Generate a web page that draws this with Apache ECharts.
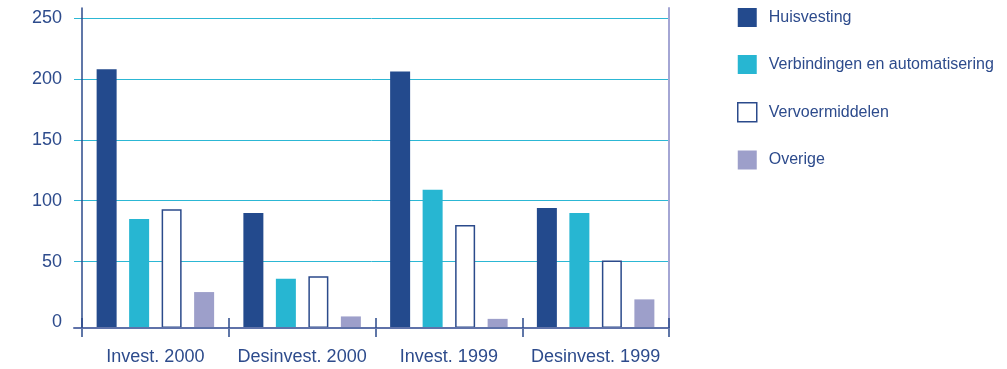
<!DOCTYPE html>
<html>
<head>
<meta charset="utf-8">
<script src="https://cdn.jsdelivr.net/npm/echarts@6/dist/echarts.min.js"></script>
<style>
  html, body { margin: 0; padding: 0; background: #ffffff; }
  #chart { width: 1007px; height: 369px; }
</style>
</head>
<body>
<div id="chart"></div>
<script>
// Investeringen en desinvesteringen per soort (x 1 mln)
const categories = ['Invest. 2000', 'Desinvest. 2000', 'Invest. 1999', 'Desinvest. 1999'];
const seriesNames = ['Huisvesting', 'Verbindingen en automatisering', 'Vervoermiddelen', 'Overige'];
const huisvesting = [208, 90, 206, 94];
const verbindingen = [85, 36, 109, 90];
const vervoermiddelen = [93, 38, 80, 51];
const overige = [25, 5, 3, 19];
const yTicks = [0, 50, 100, 150, 200, 250];

// value axis runs slightly below zero: the baseline sits under the 0 label
const yMin = -4.5;
const yMax = yTicks[yTicks.length - 1];

const FONT = "'Liberation Sans', Arial, Helvetica, sans-serif";
const TEXT = '#2d4b8c';
const GRID_CYAN = '#2cb7d4';
const BAR_W = 20;
const BAR_GAP = 12.5;

const styles = [
  { fill: '#234a8d' },
  { fill: '#27b6d2' },
  { fill: '#ffffff', stroke: '#2b4a8b', lineWidth: 1.5 },
  { fill: '#9d9fca' }
];
const valueLists = [huisvesting, verbindingen, vervoermiddelen, overige];

function barRenderer(slot) {
  const st = styles[slot];
  return function (params, api) {
    const top = api.coord([api.value(0), api.value(1)]);
    const base = api.coord([api.value(0), yMin]);
    const inset = st.stroke ? st.lineWidth / 2 : 0;
    const x = top[0] + (slot - 1.5) * (BAR_W + BAR_GAP) - BAR_W / 2;
    return {
      type: 'rect',
      shape: {
        x: x + inset,
        y: top[1] + inset,
        width: BAR_W - 2 * inset,
        height: base[1] - top[1] - 2 * inset
      },
      style: {
        fill: st.fill,
        stroke: st.stroke || null,
        lineWidth: st.lineWidth || 0
      }
    };
  };
}

// gridline colours per tick (baseline, 0, 50 ... 250): no separate line at 0
const gridLineColors = ['transparent', 'transparent'].concat(yTicks.slice(1).map(function () { return GRID_CYAN; }));

const chart = echarts.init(document.getElementById('chart'), null, { renderer: 'canvas' });

const option = {
  animation: false,
  backgroundColor: '#ffffff',
  textStyle: { fontFamily: FONT },
  grid: [
    { left: 82, right: 338, top: 18, bottom: 41 },   // bars
    { left: 74, right: 338, top: 18, bottom: 41 },   // gridlines, value labels, baseline
    { left: 82, right: 338, top: 8, bottom: 41 }     // frame uprights
  ],
  xAxis: [
    {
      gridIndex: 0, type: 'category', data: categories, boundaryGap: true, position: 'bottom',
      axisLine: { show: false, onZero: false },
      axisTick: { show: true, length: 9, lineStyle: { color: '#2b4a8b', width: 1.5 } },
      axisLabel: { interval: 0, fontSize: 18, color: TEXT, fontFamily: FONT, margin: 20 },
      splitLine: { show: false }
    },
    {
      gridIndex: 1, type: 'value', min: 0, max: 1, z: 5, position: 'bottom',
      axisLine: { show: true, onZero: false, lineStyle: { color: '#5f72a9', width: 2 } },
      axisTick: { show: false }, axisLabel: { show: false }, splitLine: { show: false }
    },
    {
      gridIndex: 2, type: 'value', min: 0, max: 1, show: false
    },
    {
      gridIndex: 0, type: 'category', data: categories, boundaryGap: true, z: 6, position: 'bottom',
      axisLine: { show: false, onZero: false },
      axisTick: { show: true, inside: true, length: 10, lineStyle: { color: '#2b4a8b', width: 1.5 } },
      axisLabel: { show: false }, splitLine: { show: false }
    }
  ],
  yAxis: [
    { gridIndex: 0, type: 'value', min: yMin, max: yMax, show: false },
    {
      gridIndex: 1, type: 'value', min: yMin, max: yMax, splitNumber: 5,
      axisLine: { show: false }, axisTick: { show: false },
      axisLabel: {
        fontSize: 18, color: TEXT, fontFamily: FONT, margin: 12, showMinLabel: false,
        formatter: function (v) { return yTicks.indexOf(v) >= 0 ? String(v) : ''; }
      },
      splitLine: { show: true, lineStyle: { color: gridLineColors, width: 1 } }
    },
    {
      gridIndex: 2, type: 'value', min: 0, max: 1, position: 'left', z: 4,
      axisLine: { show: true, onZero: false, lineStyle: { color: '#2b4a8b', width: 1.5 } },
      axisTick: { show: false }, axisLabel: { show: false }, splitLine: { show: false }
    },
    {
      gridIndex: 2, type: 'value', min: 0, max: 1, position: 'right', z: 4,
      axisLine: { show: true, onZero: false, lineStyle: { color: '#a4a6d4', width: 2 } },
      axisTick: { show: false }, axisLabel: { show: false }, splitLine: { show: false }
    }
  ],
  legend: {
    orient: 'vertical', left: 737, top: 8, padding: 0,
    itemWidth: 19, itemHeight: 19, itemGap: 28, icon: 'rect',
    textStyle: { fontSize: 16, color: TEXT, fontFamily: FONT, padding: [0, 0, 0, 7] },
    data: seriesNames.map(function (name, i) {
      const st = styles[i];
      return {
        name: name,
        itemStyle: {
          color: st.fill,
          borderColor: st.stroke || st.fill,
          borderWidth: st.lineWidth || 0
        }
      };
    })
  },
  series: seriesNames.map(function (name, i) {
    return {
      name: name,
      type: 'custom',
      xAxisIndex: 0,
      yAxisIndex: 0,
      z: 3,
      itemStyle: { color: styles[i].fill, borderColor: styles[i].stroke || styles[i].fill },
      encode: { x: 0, y: 1 },
      renderItem: barRenderer(i),
      data: valueLists[i].map(function (v, k) { return [k, v]; })
    };
  })
};

chart.setOption(option);
</script>
</body>
</html>
